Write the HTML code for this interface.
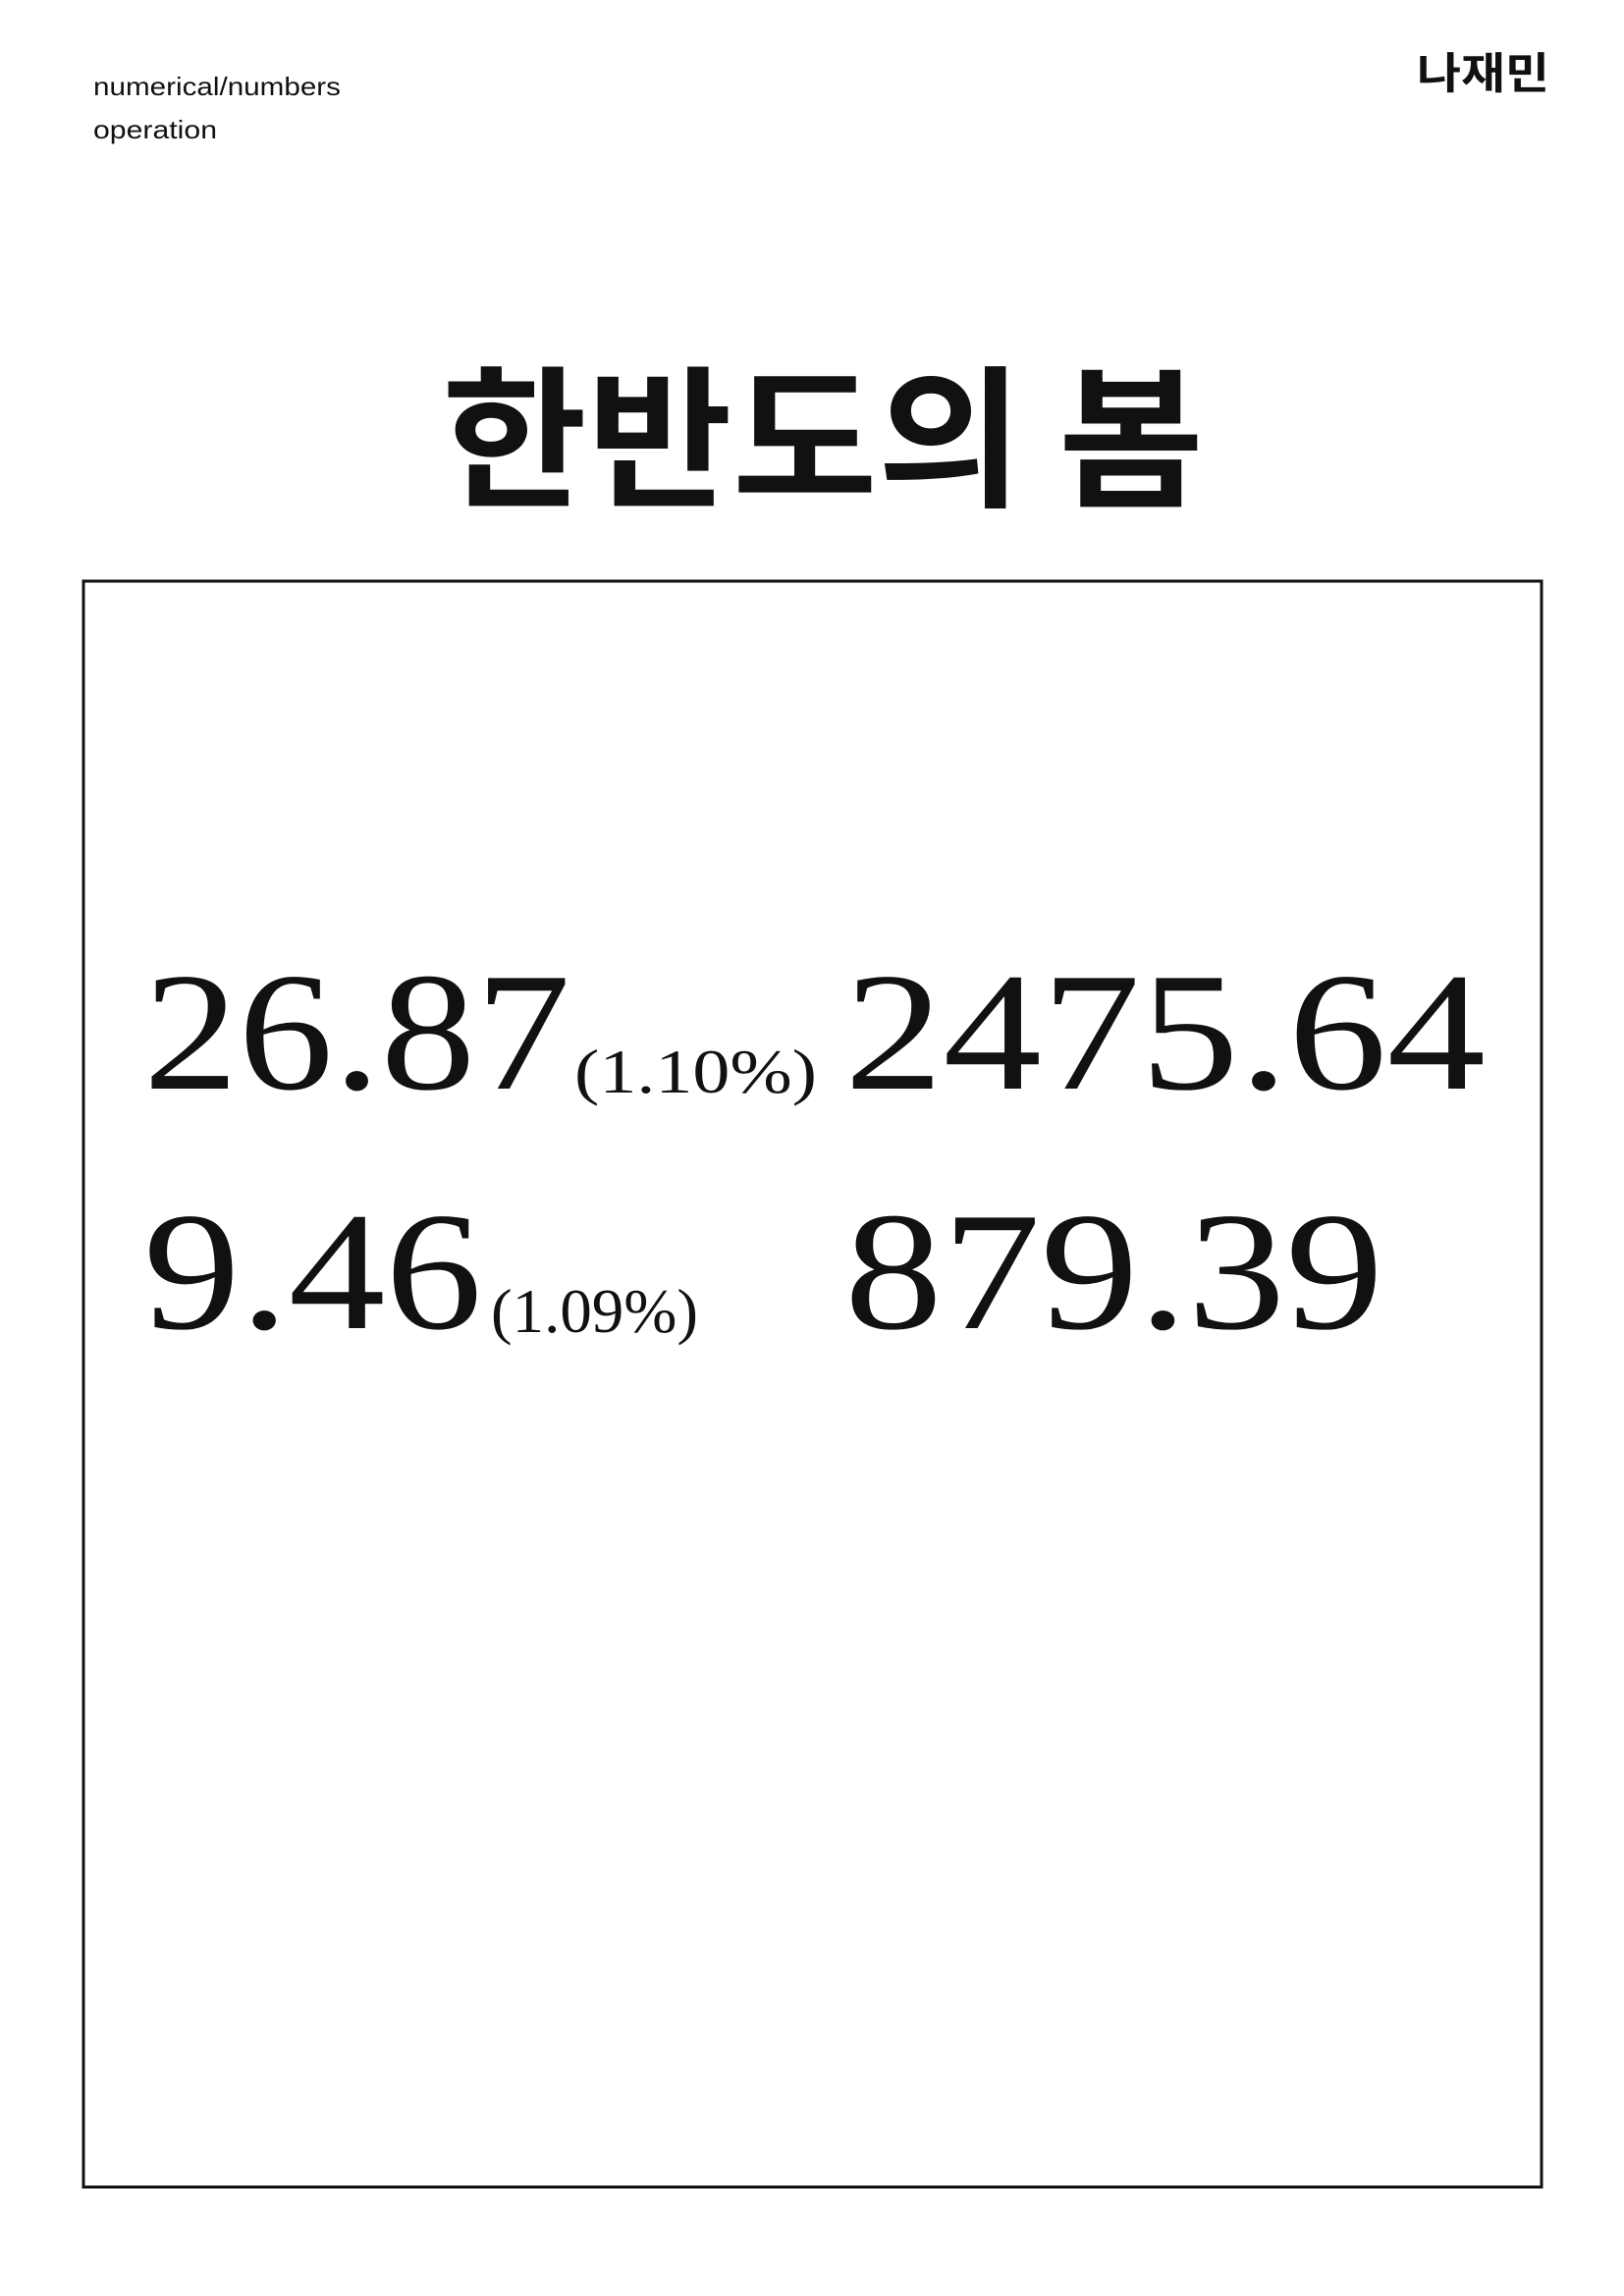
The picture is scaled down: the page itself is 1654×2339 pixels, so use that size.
<!DOCTYPE html>
<html><head><meta charset="utf-8"><style>
html,body{margin:0;padding:0;background:#fff;}
svg{display:block;}
.sans{font-family:"Liberation Sans","Noto Sans CJK KR",sans-serif;}
.kr{font-family:"Noto Sans CJK KR","NanumGothic",sans-serif;font-weight:700;}
.serif{font-family:"Liberation Serif","DejaVu Serif",serif;}
</style></head><body>
<svg width="1654" height="2339" viewBox="0 0 1654 2339" xmlns="http://www.w3.org/2000/svg">
<rect x="0" y="0" width="1654" height="2339" fill="#fff"/>
<text x="95" y="97" class="sans" font-size="26" fill="#111" textLength="252" lengthAdjust="spacingAndGlyphs">numerical/numbers</text>
<text x="95" y="141" class="sans" font-size="26" fill="#111" textLength="126" lengthAdjust="spacingAndGlyphs">operation</text>
<text x="1443" y="90" class="kr" font-size="44" fill="#111" textLength="135" lengthAdjust="spacingAndGlyphs">나재민</text>
<text x="450" y="504" class="kr" font-size="156" fill="#111" textLength="776" lengthAdjust="spacingAndGlyphs">한반도의 봄</text>
<rect x="85" y="592" width="1485" height="1636" fill="none" stroke="#111" stroke-width="3"/>
<text x="146" y="1109" class="serif" font-size="172" fill="#111" textLength="435" lengthAdjust="spacingAndGlyphs">26.87</text>
<text x="585" y="1113" class="serif" font-size="64" fill="#111" textLength="247" lengthAdjust="spacingAndGlyphs">(1.10%)</text>
<text x="860" y="1109" class="serif" font-size="172" fill="#111" textLength="653" lengthAdjust="spacingAndGlyphs">2475.64</text>
<text x="146" y="1353" class="serif" font-size="172" fill="#111" textLength="345" lengthAdjust="spacingAndGlyphs">9.46</text>
<text x="500" y="1357" class="serif" font-size="64" fill="#111" textLength="211" lengthAdjust="spacingAndGlyphs">(1.09%)</text>
<text x="860" y="1353" class="serif" font-size="172" fill="#111" textLength="549" lengthAdjust="spacingAndGlyphs">879.39</text>
</svg>
</body></html>
